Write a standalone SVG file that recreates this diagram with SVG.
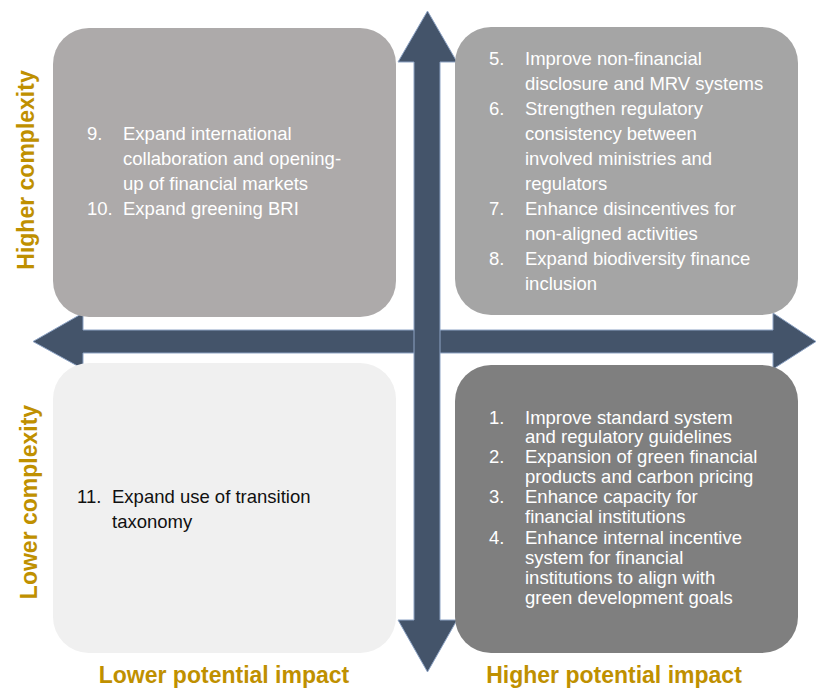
<svg xmlns="http://www.w3.org/2000/svg" width="816" height="690" viewBox="0 0 816 690">
<style>
.arrow{fill:#44546a;stroke:#8da3c4;stroke-width:1}
.box{stroke:none}
.t{font-family:"Liberation Sans",Arial,sans-serif;font-size:18.5px}
.w{fill:#ffffff}
.k{fill:#111111}
.ax{font-family:"Liberation Sans",Arial,sans-serif;font-size:23px;font-weight:bold;fill:#bf9000}
</style>
<rect width="816" height="690" fill="#ffffff"/>
<g id="connectors">
<polygon class="arrow" points="33,341.5 83,313 83,330 773,330 773,313 816,341.5 773,369 773,353 83,353 83,369"/>
<polygon class="arrow" points="427.5,11 457,62 440,62 440,620 457,620 427.5,672 398,620 414,620 414,62 398,62"/>
</g>
<g id="node-tl">
<rect class="box" x="53" y="28" width="343" height="289" rx="36" fill="#adaaaa"/>
<text class="t w"><tspan x="87" y="140">9.</tspan><tspan x="123" y="140">Expand international</tspan><tspan x="123" y="165">collaboration and opening-</tspan><tspan x="123" y="190">up of financial markets</tspan><tspan x="87" y="215">10.</tspan><tspan x="123" y="215">Expand greening BRI</tspan></text>
</g>
<g id="node-tr">
<rect class="box" x="455" y="27" width="343" height="288" rx="36" fill="#a5a5a5"/>
<text class="t w"><tspan x="489" y="65">5.</tspan><tspan x="525" y="65">Improve non-financial</tspan><tspan x="525" y="90">disclosure and MRV systems</tspan><tspan x="489" y="115">6.</tspan><tspan x="525" y="115">Strengthen regulatory</tspan><tspan x="525" y="140">consistency between</tspan><tspan x="525" y="165">involved ministries and</tspan><tspan x="525" y="190">regulators</tspan><tspan x="489" y="215">7.</tspan><tspan x="525" y="215">Enhance disincentives for</tspan><tspan x="525" y="240">non-aligned activities</tspan><tspan x="489" y="265">8.</tspan><tspan x="525" y="265">Expand biodiversity finance</tspan><tspan x="525" y="290">inclusion</tspan></text>
</g>
<g id="node-bl">
<rect class="box" x="53" y="363" width="343" height="290" rx="36" fill="#f0f0f0"/>
<text class="t k"><tspan x="77" y="503">11.</tspan><tspan x="112" y="503">Expand use of transition</tspan><tspan x="112" y="528">taxonomy</tspan></text>
</g>
<g id="node-br">
<rect class="box" x="455" y="365" width="343" height="288" rx="36" fill="#7f7f7f"/>
<text class="t w"><tspan x="489" y="424">1.</tspan><tspan x="525" y="424">Improve standard system</tspan><tspan x="525" y="443">and regulatory guidelines</tspan><tspan x="489" y="463">2.</tspan><tspan x="525" y="463">Expansion of green financial</tspan><tspan x="525" y="483">products and carbon pricing</tspan><tspan x="489" y="503">3.</tspan><tspan x="525" y="503">Enhance capacity for</tspan><tspan x="525" y="523">financial institutions</tspan><tspan x="489" y="544">4.</tspan><tspan x="525" y="544">Enhance internal incentive</tspan><tspan x="525" y="564">system for financial</tspan><tspan x="525" y="584">institutions to align with</tspan><tspan x="525" y="604">green development goals</tspan></text>
</g>
<g id="axis-labels">
<text class="ax" transform="translate(34,170) rotate(-90)" text-anchor="middle">Higher complexity</text>
<text class="ax" transform="translate(37,502) rotate(-90)" text-anchor="middle">Lower complexity</text>
<text class="ax" x="224" y="683" text-anchor="middle">Lower potential impact</text>
<text class="ax" x="614" y="683" text-anchor="middle">Higher potential impact</text>
</g>
</svg>
